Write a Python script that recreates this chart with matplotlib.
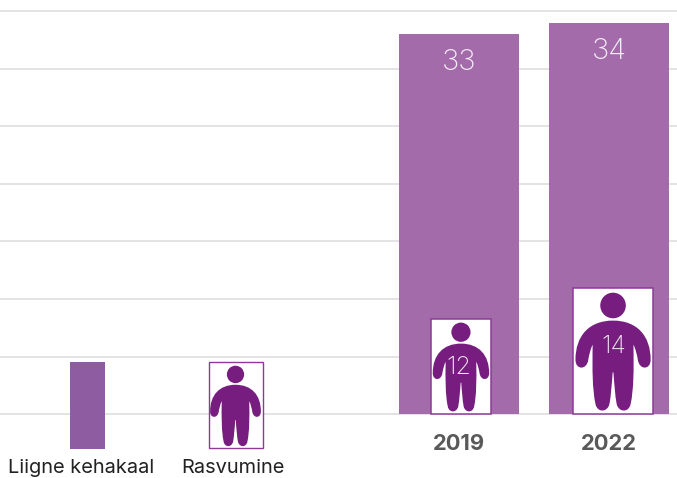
import matplotlib
matplotlib.use("Agg")
import matplotlib.pyplot as plt
from matplotlib.patches import Rectangle, Ellipse, PathPatch
from matplotlib.path import Path
from matplotlib.transforms import Affine2D

plt.rcParams['font.family'] = ['Inter', 'Open Sans', 'DejaVu Sans']

years = ['2019', '2022']
overweight = [33, 34]
obese = [12, 14]
obese_box_heights = [8.26, 10.96]
legend_labels = ['Liigne kehakaal', 'Rasvumine']

W, H = 677, 478
BAR = '#A36BAA'
LEG = '#8E5CA0'
ICON = '#761D7F'
EDGE = '#8B3A96'
GRID = '#DEDEDE'


def person_patches(transform):
    head = Ellipse((0.5, 0.861), 0.32, 0.203, fc=ICON, ec='none', transform=transform, zorder=5)
    right = [
        ((0.80, 0.741), (0.97, 0.62), (0.97, 0.43)),
        ((0.97, 0.35), (0.83, 0.345), (0.81, 0.43)),
        ((0.80, 0.47), (0.78, 0.52), (0.755, 0.55)),
        ((0.76, 0.35), (0.76, 0.20), (0.72, 0.08)),
        ((0.70, 0.01), (0.57, 0.01), (0.545, 0.08)),
        ((0.525, 0.15), (0.515, 0.24), (0.505, 0.33)),
    ]
    verts = [(0.5, 0.741)]
    codes = [Path.MOVETO]
    for seg in right:
        verts += list(seg)
        codes += [Path.CURVE4] * 3
    verts.append((0.5, 0.33))
    codes.append(Path.LINETO)
    pts = [verts[0]] + [p for seg in right for p in seg] + [(0.5, 0.33)]
    mirrored = [(1 - x, y) for x, y in reversed(pts)]
    verts.append(mirrored[1])
    codes.append(Path.LINETO)
    verts += mirrored[2:]
    codes += [Path.CURVE4] * (len(mirrored) - 2)
    body = PathPatch(Path(verts, codes), fc=ICON, ec='none', transform=transform, zorder=5)
    return head, body


fig = plt.figure(figsize=(W / 100, H / 100), dpi=100)
ax = fig.add_axes([0, 0, 1, 1])
ax.set_xlim(-459 / 150, (W - 459) / 150)
ax.set_ylim(-(H - 414) / 11.5, 414 / 11.5)
for s in ax.spines.values():
    s.set_visible(False)
ax.set_yticks(range(0, 36, 5))
ax.set_yticklabels([])
ax.grid(axis='y', color=GRID, lw=1.2, zorder=0)
ax.grid(axis='x', visible=False)
ax.set_axisbelow(True)
ax.tick_params(length=0)
x = list(range(len(years)))
ax.set_xticks(x)
ax.set_xticklabels([])

ax.bar(x, overweight, width=0.8, color=BAR, zorder=2)

box_widths = [0.40, 0.533]
box_shift = [0.013, 0.027]
num_pos = [(0, 4.0), (1.03, 5.85)]
for i, (ov, ob, h, bw, sh) in enumerate(zip(overweight, obese, obese_box_heights, box_widths, box_shift)):
    ax.bar(i + sh, h, width=bw, color='white', edgecolor=EDGE, lw=1.1, zorder=3)
    tr = Affine2D().scale(bw, h).translate(i + sh - bw / 2, 0) + ax.transData
    for p in person_patches(tr):
        ax.add_patch(p)
    ax.text(num_pos[i][0], num_pos[i][1], str(ob), color='#F1E6F2', fontsize=18, fontweight='light',
            ha='center', va='center', zorder=6)
    ax.text(i, ov - 2.45, str(ov), color='#F6EEF7', fontsize=21, fontweight='light',
            ha='center', va='center', zorder=6)
    ax.text(i, -2.6, years[i], color='#595959', fontsize=15.8, fontweight='bold',
            ha='center', va='center', zorder=6)

pf = Affine2D().scale(1 / W, -1 / H).translate(0, 1) + fig.transFigure
ax.add_patch(Rectangle((70, 362), 35, 87, fc=LEG, ec='none', transform=pf, zorder=4))
ax.add_patch(Rectangle((208.5, 362.5), 54, 86, fc='white', ec=EDGE, lw=1.0, transform=pf, zorder=4))
tr = Affine2D().scale(54, -86).translate(208.5, 448.5) + pf
for p in person_patches(tr):
    ax.add_patch(p)
fig.text(81.5 / W, 1 - 468 / H, legend_labels[0], fontsize=14.4, color='#222222', ha='center', va='center')
fig.text(233 / W, 1 - 468 / H, legend_labels[1], fontsize=14.4, color='#222222', ha='center', va='center')

fig.savefig('out.png', dpi=100)
